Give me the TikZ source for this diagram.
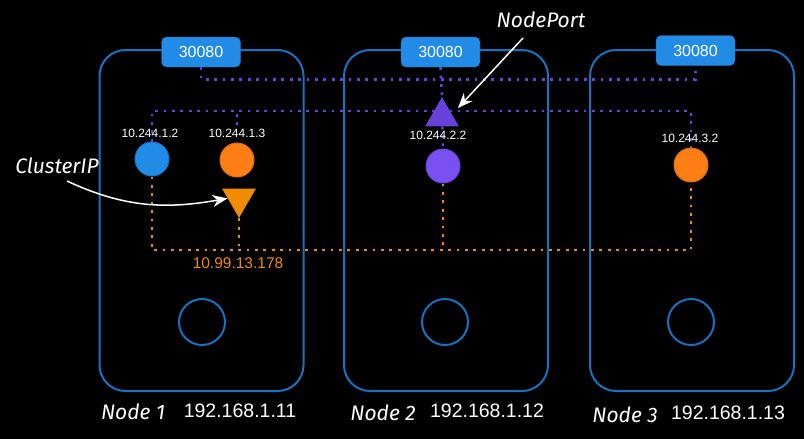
\documentclass[tikz,border=0pt]{standalone}
\usepackage{fontspec}
\setmainfont{Liberation Sans}
\newfontfamily\hand{Fira Sans}
\usetikzlibrary{positioning,shapes.geometric,arrows.meta,backgrounds}

\definecolor{frameblue}{HTML}{1971C2}
\definecolor{portblue}{HTML}{228BE6}
\definecolor{podorange}{HTML}{FD7E14}
\definecolor{cipgold}{HTML}{F08C00}
\definecolor{podviolet}{HTML}{7950F2}
\definecolor{npviolet}{HTML}{6741D9}

\begin{document}
\begin{tikzpicture}[%
  x=1pt,
  y=-1pt,
  >=stealth,
  frame/.style={
    draw=frameblue,
    line width=2pt,
    rounded corners=26pt,
    minimum width=204pt,
    minimum height=341pt,},
  port/.style={
    draw=frameblue,
    fill=portblue,
    rounded corners=5pt,
    minimum width=79pt,
    minimum height=30pt,
    text=white,
    font=\fontsize{16}{16}\selectfont,},
  pod/.style={
    circle,
    line width=1pt,
    minimum size=34pt,
    inner sep=0pt,},
  hole/.style={
    circle,
    draw=frameblue,
    line width=2pt,
    minimum size=46pt,},
  podip/.style={
    text=white,
    font=\fontsize{12}{12}\selectfont,},
  svc/.style={
    regular polygon,
    regular polygon sides=3,
    minimum size=39pt,
    inner sep=0pt,},
  np/.style={
    draw=npviolet,
    line width=2.6pt,
    dash pattern=on 2.8pt off 5.6pt,},
  cp/.style={
    draw=cipgold,
    line width=2.6pt,
    dash pattern=on 2.8pt off 5.6pt,},
  note/.style={
    text=white,
    font=\hand\itshape\fontsize{21}{21}\selectfont,},
  hostip/.style={
    text=white,
    font=\fontsize{19.5}{19.5}\selectfont,},
  pil/.style={
    white,
    line width=1.5pt,
    -{Stealth[length=15pt,width=12pt]},}
  ]
  \useasboundingbox (0,0) rectangle (804,439);
  %% Frames
  \node[frame] (F1) at (201.5,220.5) {};
  \node[frame] (F2) at (446,220.5) {};
  \node[frame] (F3) at (692,220.5) {};
  \node[hole] (H1) at (202,322) {};
  \node[hole] (H2) at (445,322) {};
  \node[hole] (H3) at (691,322) {};
  %% Ports
  \node[port] (P1) at (201,52) {30080};
  \node[port] (P2) at (440.5,52) {30080};
  \node[port] (P3) at (695.5,50.5) {30080};
  %% Pods
  \node[pod, fill=portblue, draw=frameblue] (PodA) at (152,159) {};
  \node[pod, fill=podorange, draw=podorange!85!black] (PodB) at (237,160) {};
  \node[pod, fill=podviolet, draw=npviolet] (PodC) at (443,166) {};
  \node[pod, fill=podorange, draw=podorange!85!black] (PodD) at (691,165) {};
  \node[podip] (IpA) at (150,133) {10.244.1.2};
  \node[podip] (IpB) at (237,133) {10.244.1.3};
  \node[podip] (IpC) at (438,135) {10.244.2.2};
  \node[podip] (IpD) at (690,138) {10.244.3.2};
  %% Services
  \node[svc, fill=npviolet] (NodePort) at (442,116.6) {};
  \node[svc, fill=cipgold, shape border rotate=180] (ClusterIP) at (239,198.4) {};
  \node[text=cipgold, font=\fontsize{15.5}{15.5}\selectfont] (CipAddr) at (238,263) {10.99.13.178};
  %% Wiring
  \coordinate (NpBus) at (442,111);
  \coordinate (CpBus) at (442,250);
  \begin{pgfonlayer}{background}
    \fill[black] (0,0) rectangle (804,439);
    \draw[np] (P1.south) -- ++(0,12) -| (P3.south);
    \draw[np] (P2.south) -- (NodePort.corner 1);
    \draw[np] (PodA.north) |- (NpBus) -| (PodD.north);
    \draw[np] (IpB.north) -- (IpB.north |- NpBus);
    \draw[np] (NodePort) -- (PodC.north);
    \draw[cp] (PodA.south) |- (CpBus) -| (PodD.south);
    \draw[cp] (ClusterIP.corner 1) -- (ClusterIP.corner 1 |- CpBus);
    \draw[cp] (PodC.south) -- (PodC.south |- CpBus);
  \end{pgfonlayer}
  %% Notes
  \node[note] (CipNote) at (57,166) {ClusterIP};
  \node[note] (NpNote) at (541,20) {NodePort};
  \coordinate (CipStart) at (67,181);
  \coordinate (NpStart) at (523,38);
  \coordinate (NpTip) at (458,108);
  \draw[pil] (CipStart) to [out=-25,in=190] (ClusterIP.west);
  \draw[pil] (NpStart) -- (NpTip);
  %% Hosts
  \node[note] (N1) at (133,412) {Node 1};
  \node[hostip] (A1) at (240,411) {192.168.1.11};
  \node[note] (N2) at (383,413) {Node 2};
  \node[hostip] (A2) at (487,411) {192.168.1.12};
  \node[note] (N3) at (625,415) {Node 3};
  \node[hostip] (A3) at (728,413) {192.168.1.13};
\end{tikzpicture}
\end{document}
